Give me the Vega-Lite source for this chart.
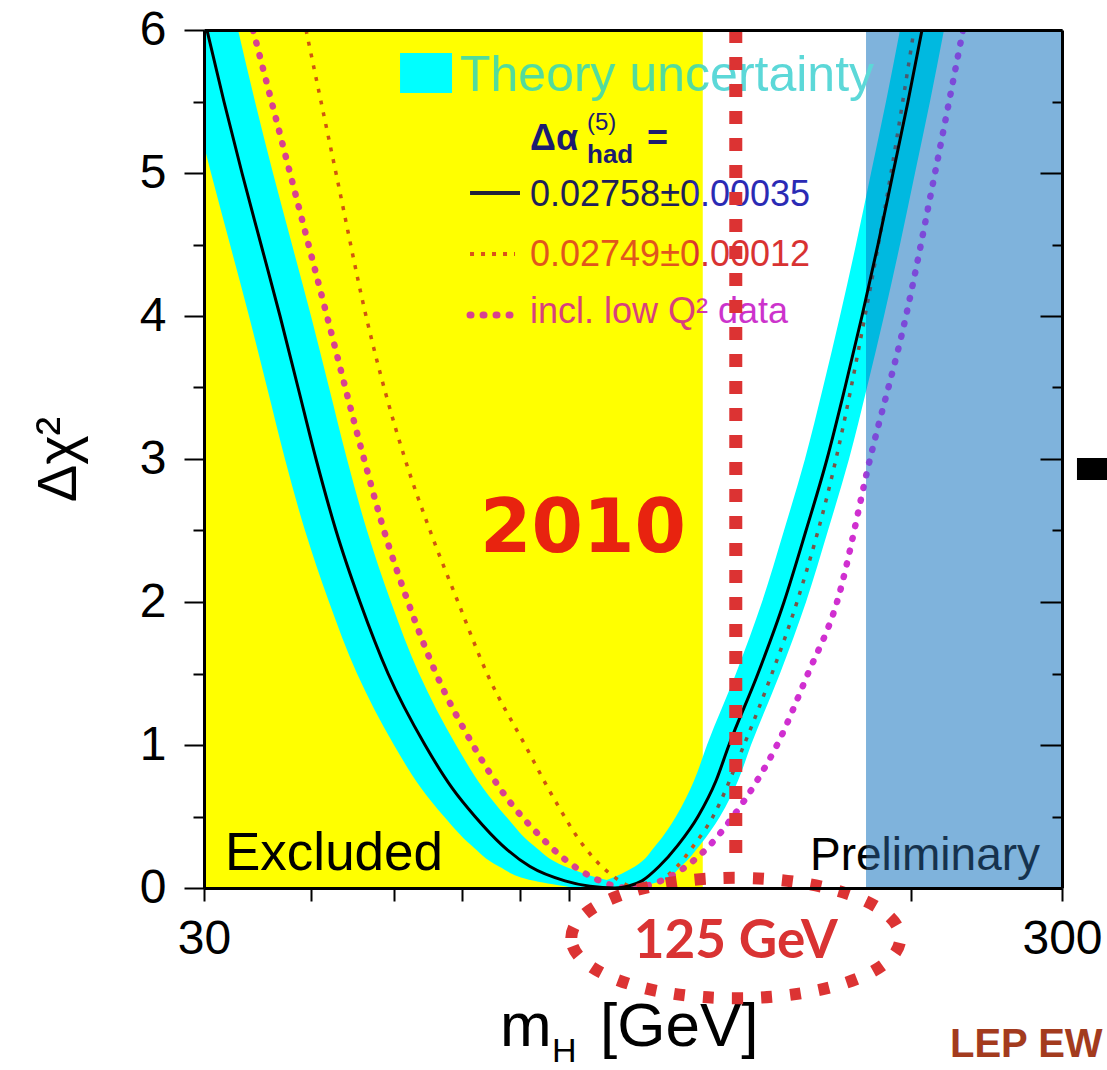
{
  "$schema": "https://vega.github.io/schema/vega-lite/v6.json",
  "width": 858,
  "height": 858,
  "autosize": {"type": "none"},
  "padding": {"left": 204, "top": 30, "right": 45, "bottom": 182},
  "background": "#ffffff",
  "config": {
    "view": {"stroke": null},
    "axis": {
      "domainColor": "#000000",
      "domainWidth": 3,
      "tickColor": "#000000",
      "tickWidth": 2,
      "labelFont": "Liberation Sans",
      "labelFontSize": 48,
      "labelColor": "#000000",
      "grid": false,
      "labelOverlap": false
    }
  },
  "datasets": {
    "regions": [
      {"region": "LEP direct search", "lo": 30, "hi": 114.4, "bottom": 0, "top": 6},
      {"region": "hadron collider searches", "lo": 177.3, "hi": 300, "bottom": 0, "top": 6}
    ],
    "band": [
      {"branch": "low", "dchi2": 6, "lo": 27.83, "hi": 32.87},
      {"branch": "low", "dchi2": 5.5, "lo": 29.13, "hi": 34.40},
      {"branch": "low", "dchi2": 5, "lo": 30.57, "hi": 36.10},
      {"branch": "low", "dchi2": 4.5, "lo": 32.17, "hi": 37.99},
      {"branch": "low", "dchi2": 4, "lo": 33.85, "hi": 39.98},
      {"branch": "low", "dchi2": 3.5, "lo": 35.53, "hi": 41.96},
      {"branch": "low", "dchi2": 3, "lo": 37.28, "hi": 44.03},
      {"branch": "low", "dchi2": 2.5, "lo": 39.34, "hi": 46.46},
      {"branch": "low", "dchi2": 2, "lo": 41.96, "hi": 49.55},
      {"branch": "low", "dchi2": 1.5, "lo": 45.23, "hi": 53.42},
      {"branch": "low", "dchi2": 1, "lo": 49.95, "hi": 59.00},
      {"branch": "low", "dchi2": 0.7, "lo": 53.71, "hi": 63.43},
      {"branch": "low", "dchi2": 0.5, "lo": 57.13, "hi": 67.47},
      {"branch": "low", "dchi2": 0.3, "lo": 61.42, "hi": 72.54},
      {"branch": "low", "dchi2": 0.15, "lo": 66.21, "hi": 79.04},
      {"branch": "low", "dchi2": 0.05, "lo": 72.73, "hi": 89.19},
      {"branch": "low", "dchi2": 0, "lo": 81.19, "hi": 97.97},
      {"branch": "high", "dchi2": 0, "lo": 83.40, "hi": 94.61},
      {"branch": "high", "dchi2": 0.05, "lo": 88.00, "hi": 102.55},
      {"branch": "high", "dchi2": 0.15, "lo": 95.38, "hi": 107.91},
      {"branch": "high", "dchi2": 0.3, "lo": 100.91, "hi": 113.56},
      {"branch": "high", "dchi2": 0.5, "lo": 106.47, "hi": 119.82},
      {"branch": "high", "dchi2": 0.75, "lo": 111.74, "hi": 125.74},
      {"branch": "high", "dchi2": 1, "lo": 115.71, "hi": 130.21},
      {"branch": "high", "dchi2": 1.5, "lo": 125.07, "hi": 140.75},
      {"branch": "high", "dchi2": 2, "lo": 134.11, "hi": 150.93},
      {"branch": "high", "dchi2": 2.5, "lo": 142.27, "hi": 160.10},
      {"branch": "high", "dchi2": 3, "lo": 150.52, "hi": 169.39},
      {"branch": "high", "dchi2": 3.5, "lo": 157.97, "hi": 177.77},
      {"branch": "high", "dchi2": 4, "lo": 165.34, "hi": 186.07},
      {"branch": "high", "dchi2": 4.5, "lo": 172.60, "hi": 194.23},
      {"branch": "high", "dchi2": 5, "lo": 179.69, "hi": 202.21},
      {"branch": "high", "dchi2": 5.5, "lo": 187.07, "hi": 210.51},
      {"branch": "high", "dchi2": 6, "lo": 194.23, "hi": 218.57}
    ],
    "alpha_02758": [
      {"mass": 30.24, "dchi2": 6}, {"mass": 31.65, "dchi2": 5.5}, {"mass": 33.22, "dchi2": 5},
      {"mass": 34.96, "dchi2": 4.5}, {"mass": 36.79, "dchi2": 4}, {"mass": 38.61, "dchi2": 3.5},
      {"mass": 40.52, "dchi2": 3}, {"mass": 42.75, "dchi2": 2.5}, {"mass": 45.60, "dchi2": 2},
      {"mass": 49.16, "dchi2": 1.5}, {"mass": 54.29, "dchi2": 1}, {"mass": 58.37, "dchi2": 0.7},
      {"mass": 62.08, "dchi2": 0.5}, {"mass": 66.75, "dchi2": 0.3}, {"mass": 71.96, "dchi2": 0.15},
      {"mass": 79.04, "dchi2": 0.05}, {"mass": 84.53, "dchi2": 0.012}, {"mass": 90.39, "dchi2": 0},
      {"mass": 93.60, "dchi2": 0.012}, {"mass": 97.19, "dchi2": 0.05}, {"mass": 101.72, "dchi2": 0.15},
      {"mass": 107.04, "dchi2": 0.3}, {"mass": 112.95, "dchi2": 0.5}, {"mass": 118.54, "dchi2": 0.75},
      {"mass": 122.74, "dchi2": 1}, {"mass": 132.68, "dchi2": 1.5}, {"mass": 142.27, "dchi2": 2},
      {"mass": 150.93, "dchi2": 2.5}, {"mass": 159.68, "dchi2": 3}, {"mass": 167.58, "dchi2": 3.5},
      {"mass": 175.40, "dchi2": 4}, {"mass": 183.10, "dchi2": 4.5}, {"mass": 190.62, "dchi2": 5},
      {"mass": 198.44, "dchi2": 5.5}, {"mass": 206.04, "dchi2": 6}
    ],
    "alpha_02749": [
      {"mass": 39.45, "dchi2": 6}, {"mass": 42.75, "dchi2": 5}, {"mass": 46.34, "dchi2": 4},
      {"mass": 51.45, "dchi2": 3}, {"mass": 55.02, "dchi2": 2.5}, {"mass": 59.32, "dchi2": 2},
      {"mass": 64.12, "dchi2": 1.5}, {"mass": 71.00, "dchi2": 1}, {"mass": 77.16, "dchi2": 0.6},
      {"mass": 82.96, "dchi2": 0.3}, {"mass": 89.19, "dchi2": 0.1}, {"mass": 96.15, "dchi2": 0},
      {"mass": 102.00, "dchi2": 0.05}, {"mass": 106.76, "dchi2": 0.15}, {"mass": 111.74, "dchi2": 0.3},
      {"mass": 117.59, "dchi2": 0.5}, {"mass": 127.79, "dchi2": 1}, {"mass": 137.76, "dchi2": 1.5},
      {"mass": 147.32, "dchi2": 2}, {"mass": 163.58, "dchi2": 3}, {"mass": 176.82, "dchi2": 4},
      {"mass": 189.60, "dchi2": 5}, {"mass": 201.67, "dchi2": 6}
    ],
    "low_q2": [
      {"mass": 34.22, "dchi2": 6}, {"mass": 37.79, "dchi2": 5}, {"mass": 41.73, "dchi2": 4},
      {"mass": 46.09, "dchi2": 3}, {"mass": 48.63, "dchi2": 2.5}, {"mass": 51.87, "dchi2": 2},
      {"mass": 55.92, "dchi2": 1.5}, {"mass": 61.75, "dchi2": 1}, {"mass": 68.20, "dchi2": 0.6},
      {"mass": 72.93, "dchi2": 0.4}, {"mass": 79.04, "dchi2": 0.2}, {"mass": 86.83, "dchi2": 0.05},
      {"mass": 93.60, "dchi2": 0}, {"mass": 102.27, "dchi2": 0.05}, {"mass": 109.37, "dchi2": 0.15},
      {"mass": 116.64, "dchi2": 0.3}, {"mass": 124.07, "dchi2": 0.5}, {"mass": 132.32, "dchi2": 0.75},
      {"mass": 139.62, "dchi2": 1}, {"mass": 151.74, "dchi2": 1.5}, {"mass": 164.02, "dchi2": 2},
      {"mass": 179.21, "dchi2": 3}, {"mass": 197.38, "dchi2": 4}, {"mass": 213.36, "dchi2": 5},
      {"mass": 230.01, "dchi2": 6}
    ],
    "key": [
      {"item": "band", "lo": 50.77, "hi": 58.37, "bottom": 5.559, "top": 5.839},
      {"item": "central", "lo": 61.26, "hi": 70.05, "bottom": 4.86, "top": 4.86},
      {"item": "narrow", "lo": 61.26, "hi": 69.12, "bottom": 4.434, "top": 4.434},
      {"item": "lowq2", "lo": 61.26, "hi": 68.20, "bottom": 4.007, "top": 4.007}
    ],
    "notes": [
      {"key": "excluded", "text": "Excluded", "mass": 31.74, "dchi2": 0.126},
      {"key": "preliminary", "text": "Preliminary", "mass": 152.55, "dchi2": 0.126},
      {"key": "theory", "text": "Theory uncertainty", "mass": 59.63, "dchi2": 5.573},
      {"key": "alpha", "text": "Δα", "mass": 71.96, "dchi2": 5.161},
      {"key": "alpha", "text": "=", "mass": 98.50, "dchi2": 5.161},
      {"key": "alpha_sup", "text": "(5)", "mass": 83.85, "dchi2": 5.301},
      {"key": "alpha_sub", "text": "had", "mass": 83.85, "dchi2": 5.07},
      {"key": "central", "text": "0.02758±0.00035", "mass": 71.96, "dchi2": 4.846},
      {"key": "narrow", "text": "0.02749±0.00012", "mass": 71.96, "dchi2": 4.427},
      {"key": "lowq2", "text": "incl. low Q² data", "mass": 71.96, "dchi2": 4.028},
      {"key": "year", "text": "2010", "mass": 82.96, "dchi2": 2.503},
      {"key": "xlabel", "text": "m", "mass": 66.39, "dchi2": -1.105},
      {"key": "xlabel_sub", "text": "H", "mass": 76.33, "dchi2": -1.217},
      {"key": "xlabel", "text": "[GeV]", "mass": 86.83, "dchi2": -1.105},
      {"key": "source", "text": "LEP EW", "mass": 222.12, "dchi2": -1.182}
    ],
    "edge": [
      {"lo": 312.3, "hi": 340, "bottom": 2.853, "top": 3.007}
    ],
    "higgs": [
      {"mass": 125, "label": "125 GeV"}
    ]
  },
  "resolve": {"axis": {"x": "independent", "y": "independent"}},
  "layer": [
    {
      "data": {"name": "regions"},
      "transform": [{"filter": "datum.region === 'LEP direct search'"}],
      "mark": {"type": "rect", "color": "#ffff00", "clip": true},
      "encoding": {
        "x": {
          "field": "lo", "type": "quantitative",
          "scale": {"type": "log", "domain": [30, 300], "nice": false},
          "axis": {
            "orient": "bottom", "values": [30, 40, 50, 60, 70, 80, 200, 300],
            "labelExpr": "datum.value == 30 || datum.value == 300 ? format(datum.value, 'd') : ''",
            "tickSize": 13, "labelPadding": 14, "labelFlush": false, "title": null, "zindex": 1
          }
        },
        "x2": {"field": "hi"},
        "y": {
          "field": "bottom", "type": "quantitative",
          "scale": {"domain": [0, 6], "nice": false, "zero": false},
          "axis": {
            "orient": "left", "values": [0, 1, 2, 3, 4, 5, 6], "format": "d",
            "tickSize": 20, "labelPadding": 18, "zindex": 1,
            "title": "Δχ²", "titleFont": "Liberation Sans", "titleFontSize": 56,
            "titleFontWeight": "normal", "titleColor": "#000000", "titlePadding": 52
          }
        },
        "y2": {"field": "top"}
      }
    },
    {
      "data": {"name": "regions"},
      "transform": [{"filter": "datum.region === 'hadron collider searches'"}],
      "mark": {"type": "rect", "color": "#7fb3dc", "clip": true},
      "encoding": {
        "x": {"field": "lo", "type": "quantitative", "axis": null},
        "x2": {"field": "hi"},
        "y": {"field": "bottom", "type": "quantitative", "axis": null},
        "y2": {"field": "top"}
      }
    },
    {
      "data": {"name": "band"},
      "transform": [{"filter": "datum.branch === 'low'"}],
      "mark": {"type": "area", "orient": "horizontal", "color": "#00ffff", "clip": true, "interpolate": "monotone"},
      "encoding": {
        "y": {
          "field": "dchi2", "type": "quantitative",
          "axis": {"orient": "left", "values": [0.5, 1.5, 2.5, 3.5, 4.5, 5.5], "tickSize": 11, "labels": false, "domain": false, "title": null, "zindex": 1}
        },
        "x": {"field": "lo", "type": "quantitative", "axis": null},
        "x2": {"field": "hi"}
      }
    },
    {
      "data": {"name": "band"},
      "transform": [{"filter": "datum.branch === 'high'"}],
      "mark": {
        "type": "area", "orient": "horizontal", "clip": true, "interpolate": "monotone",
        "fill": {
          "gradient": "linear", "x1": 0, "y1": 0, "x2": 1, "y2": 0,
          "stops": [
            {"offset": 0, "color": "#00ffff"}, {"offset": 0.782, "color": "#00ffff"},
            {"offset": 0.784, "color": "#00b9e0"}, {"offset": 1, "color": "#00b9e0"}
          ]
        }
      },
      "encoding": {
        "y": {"field": "dchi2", "type": "quantitative", "axis": null},
        "x": {"field": "lo", "type": "quantitative", "axis": null},
        "x2": {"field": "hi"}
      }
    },
    {
      "data": {"name": "alpha_02749"},
      "mark": {
        "type": "line", "clip": true, "interpolate": "monotone", "strokeWidth": 3.5, "strokeDash": [4, 8],
        "stroke": {
          "gradient": "linear", "x1": 0, "y1": 0, "x2": 1, "y2": 0,
          "stops": [
            {"offset": 0, "color": "#d0560e"}, {"offset": 0.64, "color": "#d0560e"},
            {"offset": 0.67, "color": "#7a5548"}, {"offset": 0.915, "color": "#7a5548"},
            {"offset": 0.925, "color": "#4a5a70"}, {"offset": 1, "color": "#4a5a70"}
          ]
        }
      },
      "encoding": {
        "x": {"field": "mass", "type": "quantitative", "axis": {"orient": "top", "ticks": false, "labels": false, "domain": true, "title": null, "zindex": 1}},
        "y": {"field": "dchi2", "type": "quantitative", "axis": {"orient": "right", "values": [0.5, 1.5, 2.5, 3.5, 4.5, 5.5], "tickSize": 10, "offset": -10, "labels": false, "domain": false, "title": null, "zindex": 1}}
      }
    },
    {
      "data": {"name": "low_q2"},
      "mark": {
        "type": "line", "clip": true, "interpolate": "monotone", "strokeWidth": 6.5, "strokeDash": [1, 12], "strokeCap": "round",
        "stroke": {
          "gradient": "linear", "x1": 0, "y1": 0, "x2": 1, "y2": 0,
          "stops": [
            {"offset": 0, "color": "#d8418f"}, {"offset": 0.625, "color": "#d8418f"},
            {"offset": 0.645, "color": "#d02fd0"}, {"offset": 0.858, "color": "#d02fd0"},
            {"offset": 0.866, "color": "#7c4ad8"}, {"offset": 1, "color": "#7c4ad8"}
          ]
        }
      },
      "encoding": {
        "x": {"field": "mass", "type": "quantitative", "axis": null},
        "y": {"field": "dchi2", "type": "quantitative", "axis": {"orient": "right", "ticks": false, "labels": false, "domain": true, "title": null, "zindex": 1}}
      }
    },
    {
      "data": {"name": "alpha_02758"},
      "mark": {"type": "line", "clip": true, "interpolate": "monotone", "color": "#000000", "strokeWidth": 3},
      "encoding": {
        "x": {"field": "mass", "type": "quantitative", "axis": null},
        "y": {"field": "dchi2", "type": "quantitative", "axis": {"orient": "right", "values": [0, 1, 2, 3, 4, 5, 6], "tickSize": 22, "offset": -22, "labels": false, "domain": false, "title": null, "zindex": 1}}
      }
    },
    {
      "data": {"name": "key"},
      "transform": [{"filter": "datum.item === 'band'"}],
      "mark": {"type": "rect", "color": "#00ffff"},
      "encoding": {
        "x": {"field": "lo", "type": "quantitative", "axis": null},
        "x2": {"field": "hi"},
        "y": {"field": "bottom", "type": "quantitative", "axis": null},
        "y2": {"field": "top"}
      }
    },
    {
      "data": {"name": "key"},
      "transform": [{"filter": "datum.item === 'central'"}],
      "mark": {"type": "rule", "color": "#22223a", "strokeWidth": 4},
      "encoding": {
        "x": {"field": "lo", "type": "quantitative", "axis": null},
        "x2": {"field": "hi"},
        "y": {"field": "bottom", "type": "quantitative", "axis": null}
      }
    },
    {
      "data": {"name": "key"},
      "transform": [{"filter": "datum.item === 'narrow'"}],
      "mark": {"type": "rule", "color": "#d9531a", "strokeWidth": 4, "strokeDash": [4, 7]},
      "encoding": {
        "x": {"field": "lo", "type": "quantitative", "axis": null},
        "x2": {"field": "hi"},
        "y": {"field": "bottom", "type": "quantitative", "axis": null}
      }
    },
    {
      "data": {"name": "key"},
      "transform": [{"filter": "datum.item === 'lowq2'"}],
      "mark": {"type": "rule", "color": "#d8418f", "strokeWidth": 7, "strokeDash": [1, 12], "strokeCap": "round"},
      "encoding": {
        "x": {"field": "lo", "type": "quantitative", "axis": null},
        "x2": {"field": "hi"},
        "y": {"field": "bottom", "type": "quantitative", "axis": null}
      }
    },
    {
      "data": {"name": "notes"},
      "transform": [{"filter": "datum.key === 'excluded'"}],
      "mark": {"type": "text", "align": "left", "baseline": "alphabetic", "font": "Liberation Sans", "fontSize": 53, "color": "#000000"},
      "encoding": {
        "x": {"field": "mass", "type": "quantitative", "axis": null},
        "y": {"field": "dchi2", "type": "quantitative", "axis": null},
        "text": {"field": "text"}
      }
    },
    {
      "data": {"name": "notes"},
      "transform": [{"filter": "datum.key === 'preliminary'"}],
      "mark": {
        "type": "text", "align": "left", "baseline": "alphabetic", "font": "Liberation Sans", "fontSize": 46,
        "fill": {
          "gradient": "linear", "x1": 0, "y1": 0, "x2": 1, "y2": 0,
          "stops": [
            {"offset": 0, "color": "#000000"}, {"offset": 0.24, "color": "#000000"},
            {"offset": 0.25, "color": "#16324e"}, {"offset": 1, "color": "#16324e"}
          ]
        }
      },
      "encoding": {
        "x": {"field": "mass", "type": "quantitative", "axis": null},
        "y": {"field": "dchi2", "type": "quantitative", "axis": null},
        "text": {"field": "text"}
      }
    },
    {
      "data": {"name": "notes"},
      "transform": [{"filter": "datum.key === 'theory'"}],
      "mark": {
        "type": "text", "align": "left", "baseline": "alphabetic", "font": "Liberation Sans", "fontSize": 50,
        "fill": {
          "gradient": "linear", "x1": 0, "y1": 0, "x2": 1, "y2": 0,
          "stops": [
            {"offset": 0, "color": "#52dc9c"}, {"offset": 0.57, "color": "#52dc9c"},
            {"offset": 0.6, "color": "#5cd8d8"}, {"offset": 1, "color": "#5cd8d8"}
          ]
        }
      },
      "encoding": {
        "x": {"field": "mass", "type": "quantitative", "axis": null},
        "y": {"field": "dchi2", "type": "quantitative", "axis": null},
        "text": {"field": "text"}
      }
    },
    {
      "data": {"name": "notes"},
      "transform": [{"filter": "datum.key === 'alpha'"}],
      "mark": {"type": "text", "align": "left", "baseline": "alphabetic", "font": "Liberation Sans", "fontSize": 36, "fontWeight": "bold", "color": "#1c1c70"},
      "encoding": {
        "x": {"field": "mass", "type": "quantitative", "axis": null},
        "y": {"field": "dchi2", "type": "quantitative", "axis": null},
        "text": {"field": "text"}
      }
    },
    {
      "data": {"name": "notes"},
      "transform": [{"filter": "datum.key === 'alpha_sup'"}],
      "mark": {"type": "text", "align": "left", "baseline": "alphabetic", "font": "Liberation Sans", "fontSize": 24, "color": "#1c1c70"},
      "encoding": {
        "x": {"field": "mass", "type": "quantitative", "axis": null},
        "y": {"field": "dchi2", "type": "quantitative", "axis": null},
        "text": {"field": "text"}
      }
    },
    {
      "data": {"name": "notes"},
      "transform": [{"filter": "datum.key === 'alpha_sub'"}],
      "mark": {"type": "text", "align": "left", "baseline": "alphabetic", "font": "Liberation Sans", "fontSize": 26, "fontWeight": "bold", "color": "#1c1c70"},
      "encoding": {
        "x": {"field": "mass", "type": "quantitative", "axis": null},
        "y": {"field": "dchi2", "type": "quantitative", "axis": null},
        "text": {"field": "text"}
      }
    },
    {
      "data": {"name": "notes"},
      "transform": [{"filter": "datum.key === 'central'"}],
      "mark": {
        "type": "text", "align": "left", "baseline": "middle", "font": "Liberation Sans", "fontSize": 36,
        "fill": {
          "gradient": "linear", "x1": 0, "y1": 0, "x2": 1, "y2": 0,
          "stops": [
            {"offset": 0, "color": "#202058"}, {"offset": 0.56, "color": "#202058"},
            {"offset": 0.59, "color": "#2a2ab4"}, {"offset": 1, "color": "#2a2ab4"}
          ]
        }
      },
      "encoding": {
        "x": {"field": "mass", "type": "quantitative", "axis": null},
        "y": {"field": "dchi2", "type": "quantitative", "axis": null},
        "text": {"field": "text"}
      }
    },
    {
      "data": {"name": "notes"},
      "transform": [{"filter": "datum.key === 'narrow'"}],
      "mark": {
        "type": "text", "align": "left", "baseline": "middle", "font": "Liberation Sans", "fontSize": 36,
        "fill": {
          "gradient": "linear", "x1": 0, "y1": 0, "x2": 1, "y2": 0,
          "stops": [
            {"offset": 0, "color": "#e0561c"}, {"offset": 0.56, "color": "#e0561c"},
            {"offset": 0.59, "color": "#d83232"}, {"offset": 1, "color": "#d83232"}
          ]
        }
      },
      "encoding": {
        "x": {"field": "mass", "type": "quantitative", "axis": null},
        "y": {"field": "dchi2", "type": "quantitative", "axis": null},
        "text": {"field": "text"}
      }
    },
    {
      "data": {"name": "notes"},
      "transform": [{"filter": "datum.key === 'lowq2'"}],
      "mark": {
        "type": "text", "align": "left", "baseline": "middle", "font": "Liberation Sans", "fontSize": 36,
        "fill": {
          "gradient": "linear", "x1": 0, "y1": 0, "x2": 1, "y2": 0,
          "stops": [
            {"offset": 0, "color": "#d8407c"}, {"offset": 0.65, "color": "#d8407c"},
            {"offset": 0.68, "color": "#cc33cc"}, {"offset": 1, "color": "#cc33cc"}
          ]
        }
      },
      "encoding": {
        "x": {"field": "mass", "type": "quantitative", "axis": null},
        "y": {"field": "dchi2", "type": "quantitative", "axis": null},
        "text": {"field": "text"}
      }
    },
    {
      "data": {"name": "notes"},
      "transform": [{"filter": "datum.key === 'year'"}],
      "mark": {"type": "text", "align": "center", "baseline": "middle", "font": "DejaVu Sans", "fontSize": 74, "fontWeight": "bold", "color": "#e8230f"},
      "encoding": {
        "x": {"field": "mass", "type": "quantitative", "axis": null},
        "y": {"field": "dchi2", "type": "quantitative", "axis": null},
        "text": {"field": "text"}
      }
    },
    {
      "data": {"name": "notes"},
      "transform": [{"filter": "datum.key === 'xlabel'"}],
      "mark": {"type": "text", "align": "left", "baseline": "alphabetic", "font": "Liberation Sans", "fontSize": 62, "color": "#000000"},
      "encoding": {
        "x": {"field": "mass", "type": "quantitative", "axis": null},
        "y": {"field": "dchi2", "type": "quantitative", "axis": null},
        "text": {"field": "text"}
      }
    },
    {
      "data": {"name": "notes"},
      "transform": [{"filter": "datum.key === 'xlabel_sub'"}],
      "mark": {"type": "text", "align": "left", "baseline": "alphabetic", "font": "Liberation Sans", "fontSize": 34, "color": "#000000"},
      "encoding": {
        "x": {"field": "mass", "type": "quantitative", "axis": null},
        "y": {"field": "dchi2", "type": "quantitative", "axis": null},
        "text": {"field": "text"}
      }
    },
    {
      "data": {"name": "notes"},
      "transform": [{"filter": "datum.key === 'source'"}],
      "mark": {"type": "text", "align": "left", "baseline": "alphabetic", "font": "Liberation Sans Narrow, Liberation Sans", "fontSize": 40, "fontWeight": "bold", "color": "#a33b1e"},
      "encoding": {
        "x": {"field": "mass", "type": "quantitative", "axis": null},
        "y": {"field": "dchi2", "type": "quantitative", "axis": null},
        "text": {"field": "text"}
      }
    },
    {
      "data": {"name": "edge"},
      "mark": {"type": "rect", "color": "#000000"},
      "encoding": {
        "x": {"field": "lo", "type": "quantitative", "axis": null},
        "x2": {"field": "hi"},
        "y": {"field": "bottom", "type": "quantitative", "axis": null},
        "y2": {"field": "top"}
      }
    },
    {
      "data": {"name": "higgs"},
      "mark": {"type": "rule", "color": "#dc3333", "strokeWidth": 13, "strokeDash": [13, 14], "strokeCap": "butt"},
      "encoding": {
        "x": {"field": "mass", "type": "quantitative", "axis": null},
        "y": {"datum": 6, "type": "quantitative", "axis": null},
        "y2": {"datum": 0.16}
      }
    },
    {
      "data": {"name": "higgs"},
      "mark": {
        "type": "point",
        "shape": "M -1 0 C -1 -0.2021 -0.5523 -0.366 0 -0.366 C 0.5523 -0.366 1 -0.2021 1 0 C 1 0.2021 0.5523 0.366 0 0.366 C -0.5523 0.366 -1 0.2021 -1 0 Z",
        "size": 108241, "filled": false, "color": "#dc3333", "strokeWidth": 12, "strokeDash": [11, 18], "opacity": 1
      },
      "encoding": {
        "x": {"field": "mass", "type": "quantitative", "axis": null},
        "y": {"datum": -0.35, "type": "quantitative", "axis": null}
      }
    },
    {
      "data": {"name": "higgs"},
      "mark": {"type": "text", "align": "center", "baseline": "middle", "font": "Lato", "fontSize": 53, "fontWeight": "bold", "color": "#d93333"},
      "encoding": {
        "x": {"field": "mass", "type": "quantitative", "axis": null},
        "y": {"datum": -0.378, "type": "quantitative", "axis": null},
        "text": {"field": "label"}
      }
    }
  ]
}
